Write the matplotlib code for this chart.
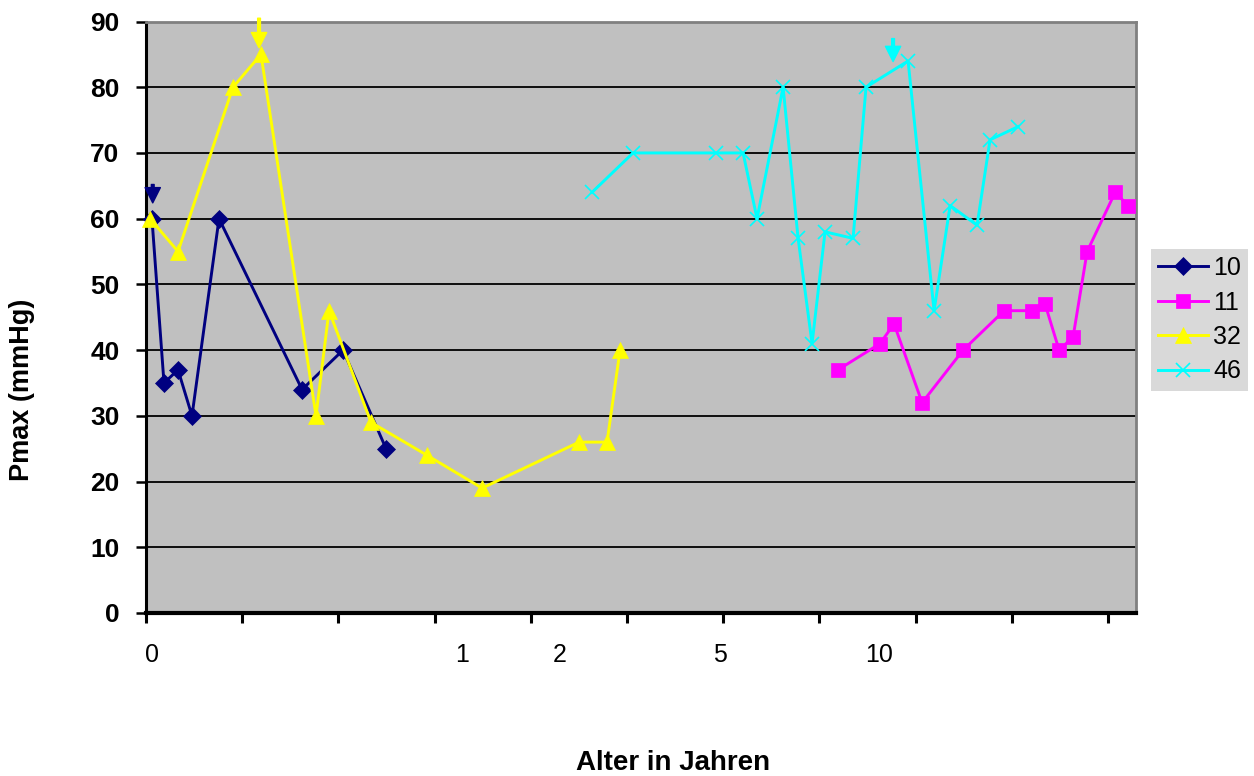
import matplotlib
matplotlib.use("Agg")
import matplotlib.pyplot as plt

plt.rcParams['font.family'] = ['Liberation Sans', 'DejaVu Sans']

# ---- data (x in axis units, one unit per major tick) ----
x_10 = [0.062, 0.187, 0.333, 0.478, 0.759, 1.622, 2.048, 2.495]
y_10 = [60, 35, 37, 30, 60, 34, 40, 25]

x_11 = [7.193, 7.630, 7.775, 8.067, 8.493, 8.919, 9.210, 9.345, 9.491, 9.636, 9.782, 10.073, 10.208]
y_11 = [37, 41, 44, 32, 40, 46, 46, 47, 40, 42, 55, 64, 62]

x_32 = [0.042, 0.333, 0.904, 1.195, 1.767, 1.902, 2.339, 2.921, 3.493, 4.501, 4.792, 4.927]
y_32 = [60, 55, 80, 85, 30, 46, 29, 24, 19, 26, 26, 40]

x_46 = [4.636, 5.062, 5.925, 6.206, 6.351, 6.622, 6.778, 6.923, 7.058, 7.349, 7.484,
        7.921, 8.191, 8.358, 8.638, 8.773, 9.064]
y_46 = [64, 70, 70, 70, 60, 80, 57, 41, 58, 57, 80, 84, 46, 62, 59, 72, 74]

series_names = ['10', '11', '32', '46']

# arrows: (x, tail value, tip value, series)
arrows = [(0.07, 65.2, 62.4, '10'), (1.175, 90.5, 86.0, '32'), (7.765, 87.4, 83.9, '46')]

age_labels = ['0', '1', '2', '5', '10']
age_label_pos = [0.062, 3.29, 4.30, 5.97, 7.62]

y_ticks = list(range(0, 91, 10))
x_ticks = list(range(0, 11))

colors = {'10': '#000080', '11': '#FF00FF', '32': '#FFFF00', '46': '#00FFFF'}
markers = {'10': 'D', '11': 's', '32': '^', '46': 'x'}
msizes = {'10': 9, '11': 10, '32': 11, '46': 10}

fig = plt.figure(figsize=(12.54, 7.76), dpi=100)
ax = fig.add_axes([146/1254, 1-613/776, (1136-146)/1254, (613-21.5)/776])
ax.set_facecolor('#C0C0C0')

data = {'10': (x_10, y_10), '11': (x_11, y_11), '32': (x_32, y_32), '46': (x_46, y_46)}
handles = []
for name in series_names:
    xs, ys = data[name]
    h, = ax.plot(xs, ys, color=colors[name], lw=2.1, marker=markers[name],
                 markersize=msizes[name], markerfacecolor=colors[name],
                 markeredgecolor=colors[name], markeredgewidth=1.2 if name == '46' else 0.5,
                 zorder=3, clip_on=False, label=name)
    handles.append(h)

for xa, yt, yh, name in arrows:
    ax.annotate('', xy=(xa, yh), xytext=(xa, yt),
                arrowprops=dict(facecolor=colors[name], edgecolor=colors[name],
                                width=2, headwidth=11, headlength=11, shrink=0),
                zorder=4, annotation_clip=False)

ax.set_xlim(0, 10.29)
ax.set_ylim(0, 90)
ax.set_yticks(y_ticks)
ax.set_xticks(x_ticks)
ax.set_xticklabels([])
ax.yaxis.grid(True, color='black', lw=1.3)
ax.set_axisbelow(True)

for s in ['top', 'right']:
    ax.spines[s].set_color('#808080')
    ax.spines[s].set_linewidth(2)
ax.spines['left'].set_color('black')
ax.spines['left'].set_linewidth(2.2)
ax.spines['bottom'].set_color('black')
ax.spines['bottom'].set_linewidth(3)

ax.tick_params(axis='y', direction='out', length=7, width=1.8, pad=12,
               labelsize=19)
ax.tick_params(axis='x', direction='out', length=7, width=2.2)
for lbl in ax.get_yticklabels():
    lbl.set_fontweight('bold')

trans = ax.get_xaxis_transform()
for lab, pos in zip(age_labels, age_label_pos):
    ax.text(pos, -42/591.5, lab, transform=trans, ha='center', va='center', fontsize=18)

fig.text(673/1254, 1-763/776, 'Alter in Jahren', ha='center', va='center',
         fontsize=20, fontweight='bold')
fig.text(22/1254, 1-390/776, 'Pmax (mmHg)', ha='center', va='center',
         fontsize=19.5, fontweight='bold', rotation=90)

leg = fig.legend(handles=handles, loc='upper left',
                 bbox_to_anchor=(1151/1254, 1-249/776), frameon=True,
                 fontsize=18, handlelength=2.0, handletextpad=0.2,
                 labelspacing=0.42, borderpad=0.28, borderaxespad=0)
leg.get_frame().set_facecolor('#D9D9D9')
leg.get_frame().set_edgecolor('none')
leg.get_frame().set_alpha(1)
leg.get_frame().set_boxstyle('square', pad=0)

fig.savefig('out.png', dpi=100, facecolor='white')
